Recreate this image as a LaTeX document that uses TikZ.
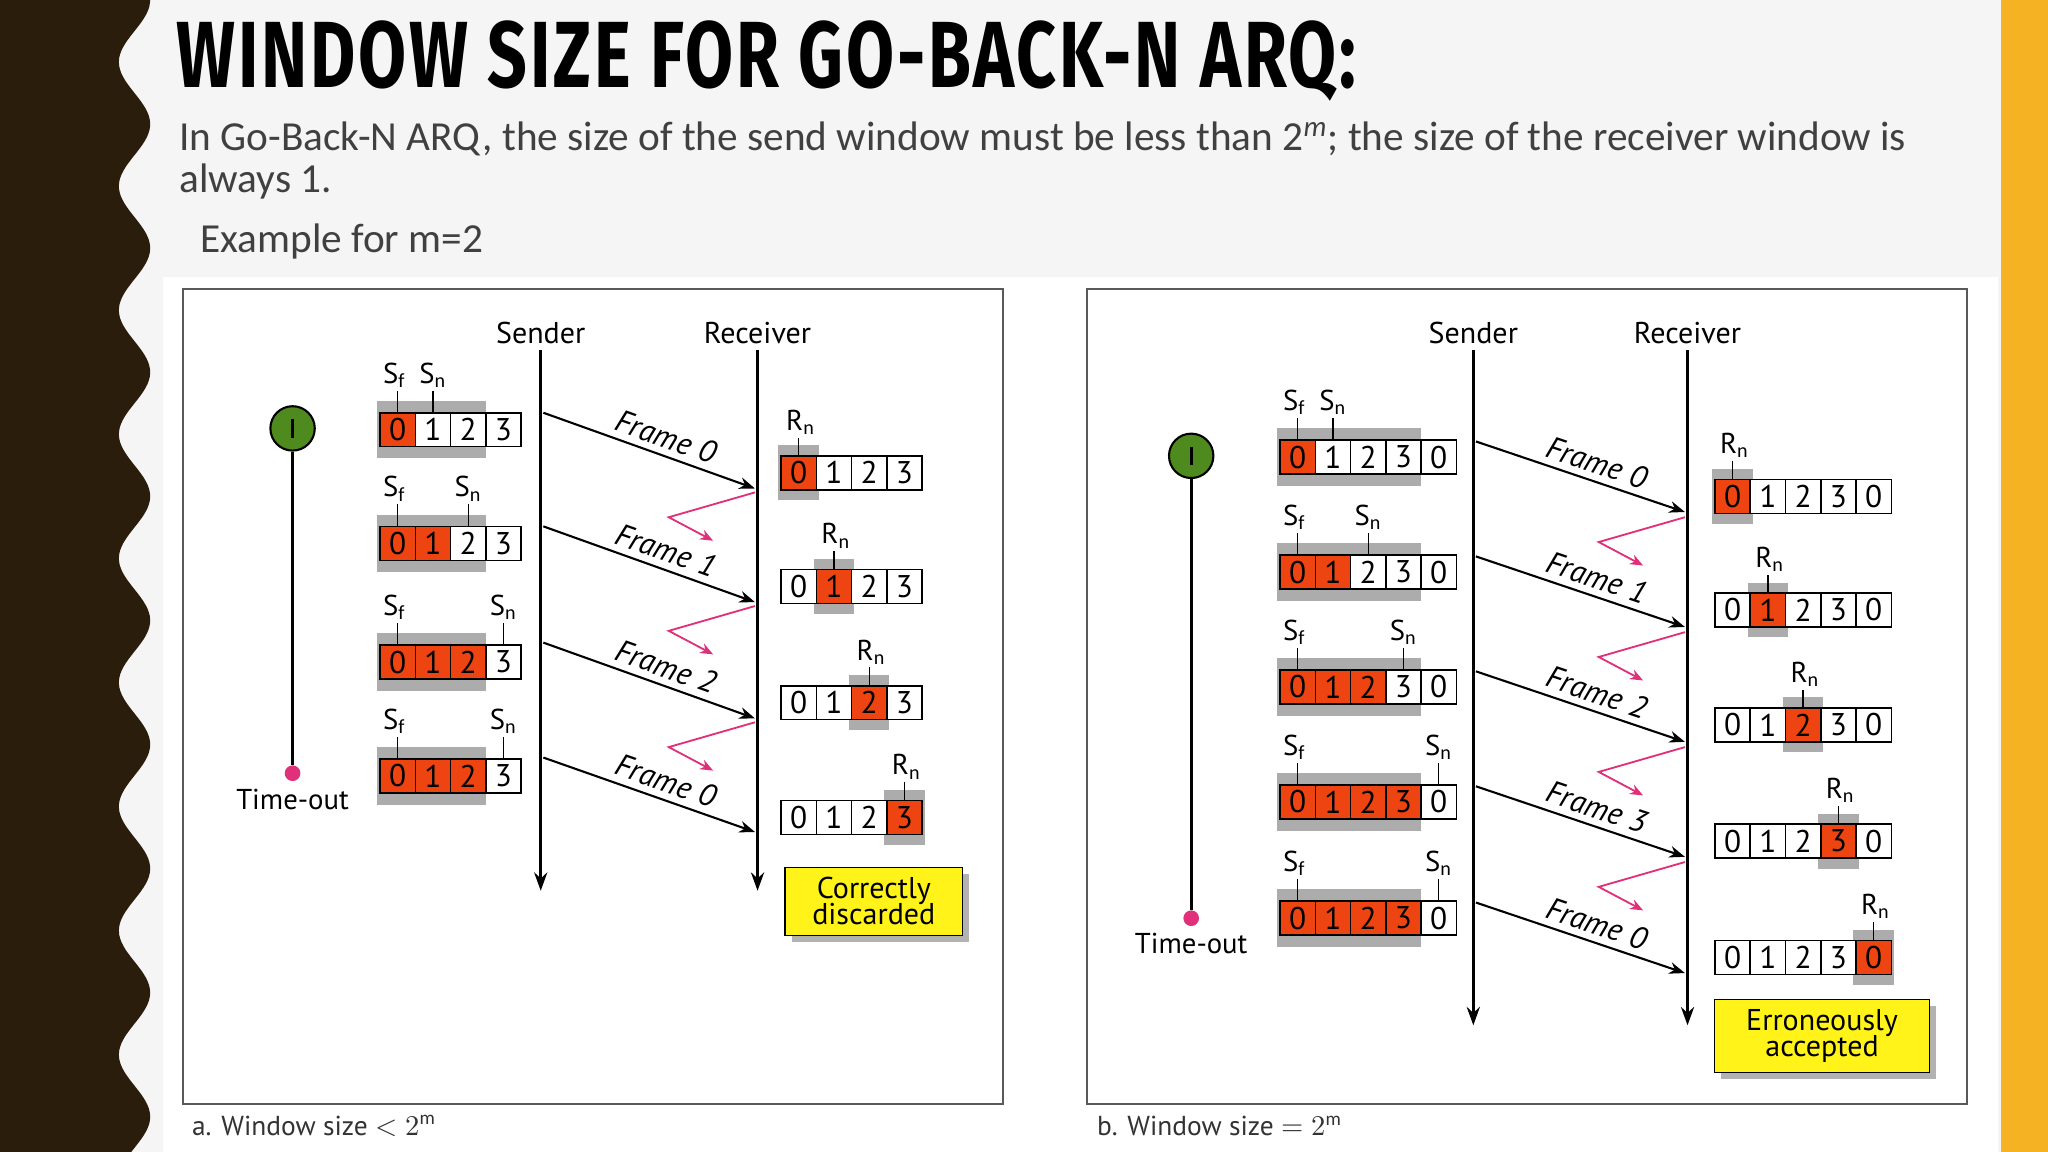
\documentclass[tikz,border=0pt]{standalone}
\usepackage{fontspec}
\usepackage{graphicx}
\setmainfont{Carlito}
\newfontfamily\titlefont{Fira Sans}
\newfontfamily\dfont{PT Sans}
\definecolor{brownbg}{HTML}{2B1D0C}
\definecolor{orbar}{HTML}{F5B324}
\definecolor{myred}{HTML}{EE4411}
\definecolor{ackpink}{HTML}{E0307A}
\definecolor{tgreen}{HTML}{4E8A1E}
\definecolor{subgray}{HTML}{404040}
\usetikzlibrary{arrows.meta}
\tikzset{
 cell/.style={draw,line width=0.6pt,minimum width=13.5pt,minimum height=13pt,inner sep=0pt,font=\dfont\fontsize{12}{12}\selectfont},
 lbl/.style={font=\dfont\fontsize{11}{11}\selectfont,inner sep=1pt},
 head/.style={font=\dfont\fontsize{11.5}{11}\selectfont,inner sep=1pt},
 life/.style={line width=1.3pt,-{Stealth[length=7pt,width=5pt]}},
 frm/.style={line width=0.8pt,-{Stealth[length=6pt,width=4.5pt]}},
 ack/.style={ackpink,line width=0.7pt,-{Stealth[length=5pt,width=4pt]}},
 tick/.style={line width=0.5pt},
 shadowg/.style={fill=gray!65},
 flbl/.style={sloped,above,pos=0.55,font=\dfont\itshape\fontsize{12}{12}\selectfont,inner sep=2.5pt},
 note/.style={draw,fill=yellow!90!white,font=\dfont\fontsize{11.5}{12}\selectfont,align=center,inner sep=3pt},
}
% x0, y, labels, redfrom, redto, name
\newcommand\wrow[6]{%
 \foreach \lab [count=\i from 0] in {#3}{%
   \pgfmathtruncatemacro\isred{((\i>=#4)&&(\i<=#5))?1:0}%
   \ifnum\isred=1 \def\fc{myred}\else\def\fc{white}\fi
   \node[cell,fill=\fc] (#6-\i) at ({#1+\i*27+13.5},#2) {\lab};
 }}
\begin{document}
\begin{tikzpicture}[x=0.5pt,y=-0.5pt]
\useasboundingbox (0,0) rectangle (1568,882);
\fill[gray!8] (0,0) rectangle (1568,882);
\fill[orbar] (1532,0) rectangle (1568,882);
\fill[brownbg] (0,0) -- plot[domain=0:882,samples=160,smooth] ({103+12*sin(\x/95*360+90)},\x) -- (0,882) -- cycle;
\fill[white] (125,212) rectangle (1530,882);
% title
\node[anchor=west,inner sep=0] (title) at (135,47) {\scalebox{0.74}[1]{\titlefont\bfseries\fontsize{36}{36}\selectfont\addfontfeature{LetterSpace=4} WINDOW SIZE FOR GO-BACK-N ARQ:}};
\node[anchor=west,inner sep=0,text=subgray,font=\fontsize{15.8}{18}\selectfont] (sub1) at (137,106) {In Go-Back-N ARQ, the size of the send window must be less than 2\textsuperscript{\textit{m}}; the size of the receiver window is};
\node[anchor=west,inner sep=0,text=subgray,font=\fontsize{15.8}{18}\selectfont] (sub2) at (137,139) {always 1.};
\node[anchor=west,inner sep=0,text=subgray,font=\fontsize{15.8}{18}\selectfont] (ex) at (153,185) {Example for m=2};
% panels
\draw[gray!70!black,line width=0.8pt] (140,221) rectangle (768,845);
\draw[gray!70!black,line width=0.8pt] (832,221) rectangle (1506,845);
\node[anchor=west,font=\dfont\fontsize{10.5}{11}\selectfont,text=black!80] (capa) at (140,862) {a. Window size $<2^{\mathrm{m}}$};
\node[anchor=west,font=\dfont\fontsize{10.5}{11}\selectfont,text=black!80] (capb) at (833,862) {b. Window size $=2^{\mathrm{m}}$};
%%%%%%%%% LEFT
\node[head] (sA) at (414,255) {Sender};
\node[head] (rA) at (580,255) {Receiver};
\coordinate (sAt) at (414,268); \coordinate (sAb) at (414,682);
\coordinate (rAt) at (580,268); \coordinate (rAb) at (580,682);
\draw[life] (sAt) -- (sAb);
\draw[life] (rAt) -- (rAb);
\node[circle,draw,fill=tgreen,minimum size=17pt,inner sep=0,line width=0.8pt] (tmA) at (224,328) {};
\draw[line width=1.3pt] (224,321) -- (224,335);
\node[circle,fill=ackpink,minimum size=6pt,inner sep=0] (toA) at (224,592) {};
\draw[line width=1pt] (tmA) -- (toA);
\node[lbl] (toAl) at (224,612) {Time-out};
% sender rows left
\foreach \r/\y/\sn/\k in {1/329/1/0, 2/416/2/1, 3/507/3/2, 4/594/3/2}{
  \fill[shadowg] (289,\y-22) rectangle (372,\y+22);
  \wrow{291}{\y}{0,1,2,3}{0}{\k}{LA\r}
  \draw[tick] (304.5,\y-13) -- (304.5,\y-30);
  \draw[tick] ({291+\sn*27+13.5},\y-13) -- ({291+\sn*27+13.5},\y-30);
  \node[lbl,anchor=south] at (302,\y-30) {S$_\mathrm{f}$};
  \node[lbl,anchor=south] at ({291+\sn*27+13.5},\y-30) {S$_\mathrm{n}$};
}
% receiver rows left
\foreach \r/\y/\k in {1/362/0, 2/449/1, 3/538/2, 4/626/3}{
  \fill[shadowg] ({598+\k*27-2},\y-21) rectangle ({598+\k*27+29},\y+21);
  \wrow{598}{\y}{0,1,2,3}{\k}{\k}{RA\r}
  \draw[tick] ({598+\k*27+13.5},\y-13) -- ({598+\k*27+13.5},\y-27);
  \node[lbl,anchor=south] at ({598+\k*27+15},\y-27) {R$_\mathrm{n}$};
}
% frames left
\foreach \i/\ys/\ye/\f in {1/316/374/0, 2/403/461/1, 3/492/550/2, 4/580/637/0}{
  \coordinate (fa\i) at (416,\ys); \coordinate (fb\i) at (578,\ye);
  \draw[frm] (fa\i) -- node[flbl]{Frame \f} (fb\i);
}
\foreach \i/\y in {1/377, 2/464, 3/553}{
  \coordinate (aa\i) at (578,\y); \coordinate (ab\i) at (512,\y+19); \coordinate (ac\i) at (546,\y+37);
  \draw[ack] (aa\i) -- (ab\i) -- (ac\i);
}
\fill[gray!60] (606,669) rectangle (742,721);
\node[note,minimum width=68pt,minimum height=26pt] (cd) at (669,690) {Correctly\\[-2pt]discarded};
%%%%%%%%% RIGHT
\node[head] (sB) at (1128,255) {Sender};
\node[head] (rB) at (1292,255) {Receiver};
\coordinate (sBt) at (1128,268); \coordinate (sBb) at (1128,785);
\coordinate (rBt) at (1292,268); \coordinate (rBb) at (1292,785);
\draw[life] (sBt) -- (sBb);
\draw[life] (rBt) -- (rBb);
\node[circle,draw,fill=tgreen,minimum size=17pt,inner sep=0,line width=0.8pt] (tmB) at (912,349) {};
\draw[line width=1.3pt] (912,342) -- (912,356);
\node[circle,fill=ackpink,minimum size=6pt,inner sep=0] (toB) at (912,703) {};
\draw[line width=1pt] (tmB) -- (toB);
\node[lbl] (toBl) at (912,722) {Time-out};
\foreach \r/\y/\sn/\k in {1/350/1/0, 2/438/2/1, 3/526/3/2, 4/614/4/3, 5/703/4/3}{
  \fill[shadowg] (978,\y-22) rectangle (1088,\y+22);
  \wrow{980}{\y}{0,1,2,3,0}{0}{\k}{LB\r}
  \draw[tick] (993.5,\y-13) -- (993.5,\y-30);
  \draw[tick] ({980+\sn*27+13.5},\y-13) -- ({980+\sn*27+13.5},\y-30);
  \node[lbl,anchor=south] at (991,\y-30) {S$_\mathrm{f}$};
  \node[lbl,anchor=south] at ({980+\sn*27+13.5},\y-30) {S$_\mathrm{n}$};
}
\foreach \r/\y/\k in {1/380/0, 2/467/1, 3/555/2, 4/644/3, 5/733/4}{
  \fill[shadowg] ({1313+\k*27-2},\y-21) rectangle ({1313+\k*27+29},\y+21);
  \wrow{1313}{\y}{0,1,2,3,0}{\k}{\k}{RB\r}
  \draw[tick] ({1313+\k*27+13.5},\y-13) -- ({1313+\k*27+13.5},\y-27);
  \node[lbl,anchor=south] at ({1313+\k*27+15},\y-27) {R$_\mathrm{n}$};
}
\foreach \i/\ys/\ye/\f in {1/338/392/0, 2/426/480/1, 3/514/568/2, 4/602/656/3, 5/691/745/0}{
  \coordinate (fc\i) at (1130,\ys); \coordinate (fd\i) at (1290,\ye);
  \draw[frm] (fc\i) -- node[flbl]{Frame \f} (fd\i);
}
\foreach \i/\y in {1/396, 2/484, 3/572, 4/660}{
  \coordinate (ba\i) at (1290,\y); \coordinate (bb\i) at (1224,\y+19); \coordinate (bc\i) at (1258,\y+37);
  \draw[ack] (ba\i) -- (bb\i) -- (bc\i);
}
\fill[gray!60] (1318,770) rectangle (1482,826);
\node[note,minimum width=82pt,minimum height=28pt] (ea) at (1395,793) {Erroneously\\[-2pt]accepted};
\end{tikzpicture}
\end{document}
